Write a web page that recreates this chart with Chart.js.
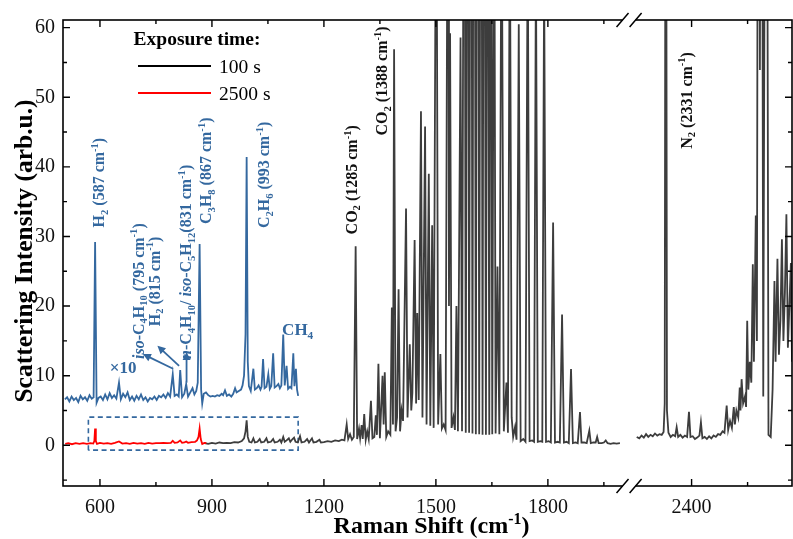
<!DOCTYPE html>
<html>
<head>
<meta charset="utf-8">
<script src="https://cdn.jsdelivr.net/npm/chart.js@4.4.1/dist/chart.umd.min.js"></script>
<style>
  html, body { margin: 0; padding: 0; background: #ffffff; }
  #wrap { width: 793px; height: 539px; }
</style>
</head>
<body>
<div id="wrap"><canvas id="chart" width="793" height="539"></canvas></div>
<script>
// ---- axis layout -------------------------------------------------------
const shiftTicksMajor = [600, 900, 1200, 1500, 1800, 2400];
const shiftTicksMinor = [750, 1050, 1350, 1650, 1950, 2550];
const intensityTicksMajor = [0, 10, 20, 30, 40, 50, 60];
const intensityTicksMinor = [-5, 5, 15, 25, 35, 45, 55];
const shiftRange = [501, 2669];
const intensityRange = [-5.85, 61.1];

// broken Raman-shift axis: 2000–2250 cm-1 is cut out and replaced by a short gap
const BREAK_START = 2000, BREAK_END = 2250, BREAK_GAP = 35;
const toAxis = s => (s <= BREAK_START ? s : s - (BREAK_END - BREAK_START) + BREAK_GAP);
const fromAxis = u => (u <= BREAK_START ? u : u + (BREAK_END - BREAK_START) - BREAK_GAP);

// ---- spectra: [Raman shift (cm-1), intensity (arb.u.)] ------------------
// 2500 s exposure
const scan2500s = [
  [507,0.2],[515,0.3],[525,0.15],[535,0.3],[545,0.2],[555,0.3],[565,0.2],[575,0.3],[582,0.25],
  [585,0.6],[587,2.4],[589,0.6],[592,0.2],[600,0.35],[610,0.25],[620,0.3],[630,0.2],[640,0.35],
  [651,0.55],[660,0.25],[670,0.3],[680,0.2],[690,0.35],[700,0.25],[710,0.3],[720,0.2],[730,0.35],
  [740,0.25],[750,0.3],[760,0.3],[770,0.35],[780,0.3],[790,0.35],[795,0.65],[800,0.35],[808,0.4],
  [815,0.7],[820,0.35],[826,0.4],[831,0.55],[836,0.35],[845,0.45],[855,0.5],[860,0.7],[864,1.2],
  [867,2.4],[870,0.9],[874,0.2],[880,0.35],[885,0.3]
];

// 2500 s exposure, magnified x10 and lifted above the baseline
const scan2500sX10 = [
  [506,6.6],[512,6.9],[518,6.3],[524,7.0],[530,6.5],[536,6.8],[542,6.2],[548,7.1],[554,6.6],
  [560,6.9],[566,6.4],[572,7.2],[578,6.7],[583,6.9],[587,29.2],[591,6.1],[596,6.8],[602,7.0],
  [608,6.5],[614,7.3],[620,6.6],[626,7.5],[632,6.8],[638,7.2],[644,6.7],[651,9.0],[656,6.6],
  [662,7.4],[668,6.9],[674,7.6],[680,6.5],[686,7.0],[692,6.4],[698,7.1],[704,6.6],[710,7.3],
  [716,6.5],[722,6.9],[728,6.3],[734,6.8],[740,6.6],[746,7.0],[752,6.5],[758,7.1],[764,6.9],
  [770,7.3],[776,6.8],[782,7.5],[788,7.0],[795,10.2],[800,7.1],[806,7.3],[811,7.0],[815,10.8],
  [820,6.9],[826,7.4],[831,8.8],[836,7.0],[842,7.6],[848,8.2],[853,7.3],[858,7.8],[862,9.0],
  [867,28.9],[871,8.0],[874,6.0],[878,7.4],[884,7.6],[890,7.2],[896,7.0],[902,7.1],[908,7.0],
  [914,7.2],[920,7.1],[926,7.4],[930,7.2],[935,7.9],[940,7.1],[946,7.3],[952,7.0],[957,7.4],
  [962,8.2],[966,7.6],[972,7.8],[978,8.0],[982,8.6],[986,10.0],[990,16.0],[993,41.4],[996,12.0],
  [999,8.5],[1004,7.8],[1011,11.0],[1015,8.0],[1020,8.2],[1025,8.6],[1030,8.0],[1033,8.4],
  [1037,12.4],[1041,8.2],[1046,8.4],[1051,10.2],[1055,8.1],[1059,8.5],[1064,13.2],[1068,8.3],
  [1073,8.5],[1078,8.8],[1082,8.2],[1086,8.6],[1091,15.9],[1095,8.6],[1100,11.4],[1104,8.1],
  [1109,8.4],[1113,8.2],[1118,13.2],[1121,8.5],[1125,11.0],[1128,8.0],[1131,7.1]
];

// 100 s exposure, below the axis break (values above 61 run off the frame)
const scan100sLow = [
  [880,0.3],[890,0.2],[900,0.35],[910,0.25],[920,0.4],[930,0.3],[940,0.35],[950,0.3],[960,0.45],
  [970,0.4],[980,0.6],[986,1.0],[990,2.0],[993,3.6],[996,1.2],[1000,0.5],[1006,0.4],[1011,1.0],
  [1015,0.4],[1022,0.5],[1028,0.9],[1032,0.4],[1040,0.5],[1046,1.0],[1050,0.4],[1058,0.5],
  [1064,0.9],[1068,0.4],[1076,0.5],[1082,0.8],[1086,0.4],[1091,1.2],[1095,0.5],[1100,0.7],
  [1106,1.0],[1110,0.5],[1116,0.9],[1120,1.1],[1124,0.5],[1130,0.4],[1136,1.3],[1140,0.4],
  [1148,0.5],[1155,0.9],[1160,0.4],[1168,1.0],[1172,0.4],[1180,0.5],[1188,0.8],[1192,0.4],
  [1200,0.45],[1210,0.6],[1220,0.5],[1230,0.7],[1240,0.6],[1248,0.8],[1255,0.7],[1261,3.0],
  [1265,0.9],[1270,1.6],[1275,0.8],[1280,1.2],[1285,28.6],[1289,0.9],[1294,2.4],[1297,1.0],
  [1301,2.9],[1304,0.9],[1308,4.5],[1312,0.8],[1316,2.0],[1320,0.9],[1326,6.4],[1330,1.0],
  [1335,1.2],[1339,4.3],[1342,1.5],[1346,11.7],[1350,1.0],[1357,10.0],[1360,3.0],[1363,10.5],
  [1367,1.2],[1372,2.0],[1378,1.5],[1382,19.8],[1385,3.0],[1388,56.9],[1392,2.0],[1396,4.0],
  [1400,22.4],[1404,2.0],[1408,5.0],[1412,3.5],[1420,34.0],[1424,4.0],[1430,14.5],[1434,5.0],
  [1437,7.5],[1443,29.5],[1447,6.0],[1450,19.0],[1454,6.5],[1460,48.0],[1464,4.0],[1471,45.8],
  [1475,3.0],[1481,39.0],[1485,2.8],[1490,31.6],[1494,2.5],[1501,95],[1506,3.0],[1512,13.1],
  [1516,2.4],[1521,3.0],[1526,2.2],[1533,110],[1535,20],[1538,59.2],[1542,2.5],[1547,4.0],
  [1551,2.2],[1555,20.0],[1559,2.0],[1566,58.6],[1570,2.0],[1576,120],[1580,1.8],[1585,130],
  [1589,1.8],[1594,140],[1598,1.7],[1602,150],[1607,1.6],[1612,150],[1616,1.6],[1621,140],
  [1625,1.5],[1629,130],[1634,1.5],[1638,120],[1643,1.5],[1647,110],[1651,1.6],[1656,95],
  [1660,1.7],[1665,25.7],[1670,1.6],[1676,85],[1682,2.0],[1689,9.0],[1693,1.8],[1698,80],
  [1703,4.0],[1707,1.2],[1712,2.6],[1716,0.8],[1722,60.5],[1727,0.6],[1734,0.9],[1740,0.5],
  [1746,75],[1751,0.6],[1758,0.7],[1763,0.5],[1768,70],[1773,0.5],[1780,0.6],[1785,0.5],
  [1790,68],[1795,0.5],[1802,0.6],[1808,0.4],[1814,32.0],[1819,0.4],[1826,0.5],[1832,0.4],
  [1838,18.8],[1843,0.4],[1850,0.5],[1856,0.3],[1862,10.95],[1867,0.3],[1874,0.4],[1880,0.3],
  [1886,4.76],[1890,0.4],[1897,0.4],[1904,0.3],[1911,2.1],[1915,0.3],[1922,0.4],[1928,0.4],
  [1932,1.2],[1936,0.3],[1944,0.3],[1950,0.4],[1955,0.7],[1960,0.3],[1968,0.2],[1976,0.3],
  [1984,0.25],[1993,0.3]
];

// 100 s exposure, above the axis break
const scan100sHigh = [
  [2253,1.2],[2260,1.0],[2266,1.4],[2272,1.1],[2278,1.6],[2284,1.2],[2290,1.5],[2296,1.3],
  [2302,1.7],[2308,1.4],[2314,1.6],[2320,1.5],[2325,1.9],[2328,6.0],[2331,130],[2334,5.0],
  [2338,1.8],[2344,1.2],[2350,1.5],[2356,1.3],[2360,2.6],[2364,1.2],[2370,1.5],[2376,1.1],
  [2382,1.4],[2388,1.2],[2393,4.8],[2397,1.2],[2403,1.3],[2409,0.9],[2415,1.1],[2421,1.4],
  [2425,3.3],[2429,1.0],[2435,1.2],[2441,0.9],[2447,1.3],[2453,1.0],[2459,1.4],[2465,1.2],
  [2471,1.6],[2477,1.5],[2483,2.0],[2488,1.8],[2494,5.7],[2498,2.2],[2503,3.5],[2508,2.5],
  [2513,5.5],[2516,3.0],[2520,5.0],[2525,4.0],[2529,8.3],[2531,5.0],[2534,9.5],[2538,6.0],
  [2543,7.0],[2546,5.5],[2549,17.9],[2552,8.0],[2556,12.0],[2560,9.0],[2564,26.0],[2567,12.0],
  [2572,33.0],[2575,15.0],[2579,150],[2583,53.9],[2587,150],[2592,7.0],[2600,150],[2606,1.5],
  [2612,1.2],[2617,8.0],[2622,23.6],[2625,12.0],[2630,26.8],[2634,13.0],[2638,18.0],[2642,29.6],
  [2646,15.0],[2650,22.0],[2654,33.2],[2658,14.0],[2662,20.0],[2666,26.2],[2669,12.0],[2673,20.9]
];

// dashed frame around the magnified window: shift span and intensity span
const zoomWindowShift = [569, 1131];
const zoomWindowIntensity = [-0.7, 4.05];

// ---- styling ------------------------------------------------------------
const SERIF = "'Liberation Serif', 'Times New Roman', 'DejaVu Serif', serif";
const BLUE = '#34689f';
const GREY = '#3d3d3d';
const RED = '#ff0000';

const toPoints = rows => rows.map(([s, v]) => ({ x: toAxis(s), y: v }));

const datasets = [
  { label: '2500 s', data: toPoints(scan2500s), borderColor: RED, borderWidth: 1.8, inLegend: true },
  { label: '×10', data: toPoints(scan2500sX10), borderColor: BLUE, borderWidth: 1.8 },
  { label: '100 s',
    data: toPoints(scan100sLow).concat([{ x: BREAK_START + BREAK_GAP / 2, y: null }], toPoints(scan100sHigh)),
    borderColor: GREY, borderWidth: 1.8, inLegend: true, legendOrder: 0 },
  { label: 'window',
    data: [
      { x: zoomWindowShift[0], y: zoomWindowIntensity[0] },
      { x: zoomWindowShift[0], y: zoomWindowIntensity[1] },
      { x: zoomWindowShift[1], y: zoomWindowIntensity[1] },
      { x: zoomWindowShift[1], y: zoomWindowIntensity[0] },
      { x: zoomWindowShift[0], y: zoomWindowIntensity[0] }
    ],
    borderColor: BLUE, borderWidth: 1.6, borderDash: [5, 3.5] }
].map(d => Object.assign({ pointRadius: 0, tension: 0, fill: false, spanGaps: false, clip: 0 }, d));

// ---- rich text (sub/superscripts, italics) ---------------------------------
function parseRich(str) {
  const segs = []; let buf = ''; let i = 0;
  while (i < str.length) {
    const c = str[i];
    if ((c === '_' || c === '^' || c === '~') && str[i + 1] === '{') {
      if (buf) { segs.push({ t: buf, k: 'n' }); buf = ''; }
      const end = str.indexOf('}', i + 2);
      segs.push({ t: str.slice(i + 2, end), k: c });
      i = end + 1;
    } else { buf += c; i++; }
  }
  if (buf) segs.push({ t: buf, k: 'n' });
  return segs;
}

function drawRich(ctx, str, x, y, o) {
  const segs = parseRich(str);
  const weight = o.weight || 'bold';
  const fontFor = k => {
    const small = k === '_' || k === '^';
    const size = small ? o.size * 0.66 : o.size;
    return (k === '~' ? 'italic ' : '') + weight + ' ' + size + 'px ' + SERIF;
  };
  ctx.save();
  ctx.translate(x, y);
  if (o.rotate) ctx.rotate(o.rotate);
  ctx.fillStyle = o.color || '#111';
  ctx.textBaseline = 'alphabetic';
  ctx.textAlign = 'left';
  let total = 0;
  segs.forEach(s => { ctx.font = fontFor(s.k); s.w = ctx.measureText(s.t).width; total += s.w; });
  let cx = o.align === 'center' ? -total / 2 : (o.align === 'right' ? -total : 0);
  const base = o.size * 0.34;
  segs.forEach(s => {
    ctx.font = fontFor(s.k);
    let dy = base;
    if (s.k === '_') dy += o.size * 0.22;
    if (s.k === '^') dy -= o.size * 0.40;
    ctx.fillText(s.t, cx, dy);
    cx += s.w;
  });
  ctx.restore();
}

// ---- peak annotations (anchored in data coordinates) -----------------------
const UP = -Math.PI / 2;
const peakNotes = [
  { text: 'H_{2} (587 cm^{-1})', shift: 597, value: 31.3, color: BLUE },
  { text: '~{iso}-C_{4}H_{10} (795 cm^{-1})', shift: 703, value: 12.4, color: BLUE },
  { text: 'H_{2} (815 cm^{-1})', shift: 745, value: 17.1, color: BLUE },
  { text: '~{n}-C_{4}H_{10}/ ~{iso}-C_{5}H_{12}(831 cm^{-1})', shift: 830, value: 12.4, color: BLUE },
  { text: 'C_{3}H_{8} (867 cm^{-1})', shift: 883, value: 31.8, color: BLUE },
  { text: 'C_{2}H_{6} (993 cm^{-1})', shift: 1039, value: 31.2, color: BLUE },
  { text: 'CO_{2} (1285 cm^{-1})', shift: 1274, value: 30.3, color: '#111' },
  { text: 'CO_{2} (1388 cm^{-1})', shift: 1355, value: 44.5, color: '#111' },
  { text: 'N_{2} (2331 cm^{-1})', shift: 2386, value: 42.6, color: '#111' }
];
const flatNotes = [
  { text: 'CH_{4}', shift: 1088, value: 16.7, color: BLUE, align: 'left' },
  { text: '×10', shift: 662, value: 11.2, color: BLUE, align: 'center' }
];
const arrows = [
  { from: [796, 11.0], to: [715, 13.1] },
  { from: [812, 11.4], to: [754, 14.3] },
  { from: [832, 9.0], to: [832, 13.4] }
];

function drawArrow(ctx, x1, y1, x2, y2, color) {
  const ang = Math.atan2(y2 - y1, x2 - x1);
  const head = 8, half = 4;
  ctx.save();
  ctx.strokeStyle = color; ctx.fillStyle = color; ctx.lineWidth = 1.8;
  ctx.beginPath();
  ctx.moveTo(x1, y1);
  ctx.lineTo(x2 - Math.cos(ang) * head * 0.8, y2 - Math.sin(ang) * head * 0.8);
  ctx.stroke();
  ctx.beginPath();
  ctx.moveTo(x2, y2);
  ctx.lineTo(x2 - Math.cos(ang) * head + Math.sin(ang) * half, y2 - Math.sin(ang) * head - Math.cos(ang) * half);
  ctx.lineTo(x2 - Math.cos(ang) * head - Math.sin(ang) * half, y2 - Math.sin(ang) * head + Math.cos(ang) * half);
  ctx.closePath();
  ctx.fill();
  ctx.restore();
}

// ---- frame, inward ticks, axis break, titles, legend, notes ----------------
const decorations = {
  id: 'decorations',
  afterDatasetsDraw(chart) {
    const ctx = chart.ctx;
    const { left, right, top, bottom } = chart.chartArea;
    const xs = chart.scales.x, ys = chart.scales.y;
    const px = s => xs.getPixelForValue(toAxis(s));
    const py = v => ys.getPixelForValue(v);

    // notes and arrows
    peakNotes.forEach(n => drawRich(ctx, n.text, px(n.shift), py(n.value),
      { size: 16, color: n.color, rotate: UP, align: 'left' }));
    flatNotes.forEach(n => drawRich(ctx, n.text, px(n.shift), py(n.value),
      { size: 17, color: n.color, align: n.align }));
    arrows.forEach(a => drawArrow(ctx, px(a.from[0]), py(a.from[1]), px(a.to[0]), py(a.to[1]), BLUE));

    ctx.save();
    ctx.strokeStyle = '#000';
    ctx.lineWidth = 1.6;
    ctx.strokeRect(left, top, right - left, bottom - top);

    // inward tick marks on all four sides
    ctx.lineWidth = 1.4;
    ctx.beginPath();
    const xTick = (s, len) => {
      const x = px(s);
      ctx.moveTo(x, bottom); ctx.lineTo(x, bottom - len);
      ctx.moveTo(x, top); ctx.lineTo(x, top + len);
    };
    const yTick = (v, len) => {
      const y = py(v);
      ctx.moveTo(left, y); ctx.lineTo(left + len, y);
      ctx.moveTo(right, y); ctx.lineTo(right - len, y);
    };
    shiftTicksMajor.forEach(s => xTick(s, 7));
    shiftTicksMinor.forEach(s => xTick(s, 4));
    intensityTicksMajor.forEach(v => yTick(v, 7));
    intensityTicksMinor.forEach(v => yTick(v, 4));
    ctx.stroke();

    // axis break marks
    const b1 = xs.getPixelForValue(BREAK_START), b2 = xs.getPixelForValue(BREAK_START + BREAK_GAP);
    [bottom, top].forEach(yy => {
      ctx.fillStyle = '#fff';
      ctx.fillRect(b1, yy - 2, b2 - b1, 4);
      ctx.beginPath();
      [b1, b2].forEach(bx => { ctx.moveTo(bx - 6, yy + 7); ctx.lineTo(bx + 6, yy - 7); });
      ctx.lineWidth = 1.5;
      ctx.stroke();
    });
    ctx.restore();

    // axis titles
    drawRich(ctx, 'Raman Shift (cm^{-1})', (left + right) / 2 + 4, 525, { size: 24, color: '#000', align: 'center' });
    drawRich(ctx, 'Scattering Intensity (arb.u.)', 23, 251, { size: 25.5, color: '#000', align: 'center', rotate: UP });

    // legend
    drawRich(ctx, 'Exposure time:', 197, 38, { size: 19.5, color: '#000', align: 'center' });
    const entries = chart.data.datasets.filter(d => d.inLegend)
      .sort((a, b) => (a.legendOrder ?? 1) - (b.legendOrder ?? 1));
    entries.forEach((d, i) => {
      const y = 66 + i * 27;
      ctx.save();
      ctx.strokeStyle = d.label === '100 s' ? '#000' : d.borderColor;
      ctx.lineWidth = 2;
      ctx.beginPath(); ctx.moveTo(138, y); ctx.lineTo(211, y); ctx.stroke();
      ctx.restore();
      drawRich(ctx, d.label, 219, y, { size: 19.5, color: '#000', weight: 'normal', align: 'left' });
    });
  }
};

new Chart(document.getElementById('chart'), {
  type: 'line',
  data: { datasets },
  options: {
    responsive: false,
    animation: false,
    events: [],
    layout: { padding: { top: 18, right: 1, left: 0, bottom: 0 } },
    plugins: { legend: { display: false }, tooltip: { enabled: false } },
    scales: {
      x: {
        type: 'linear',
        min: toAxis(shiftRange[0]),
        max: toAxis(shiftRange[1]),
        grid: { display: false, drawTicks: false },
        border: { display: false },
        afterBuildTicks: s => { s.ticks = shiftTicksMajor.map(v => ({ value: toAxis(v) })); },
        afterFit: s => { s.height = 53; },
        ticks: {
          autoSkip: false, maxRotation: 0, padding: 10, color: '#111',
          font: { family: SERIF, size: 20 },
          callback: v => String(Math.round(fromAxis(v)))
        }
      },
      y: {
        min: intensityRange[0],
        max: intensityRange[1],
        grid: { display: false, drawTicks: false },
        border: { display: false },
        afterBuildTicks: s => { s.ticks = intensityTicksMajor.map(v => ({ value: v })); },
        afterFit: s => { s.width = 63; },
        ticks: {
          autoSkip: false, padding: 8, color: '#111',
          font: { family: SERIF, size: 20 },
          callback: v => String(v)
        }
      }
    }
  },
  plugins: [decorations]
});
</script>
</body>
</html>
